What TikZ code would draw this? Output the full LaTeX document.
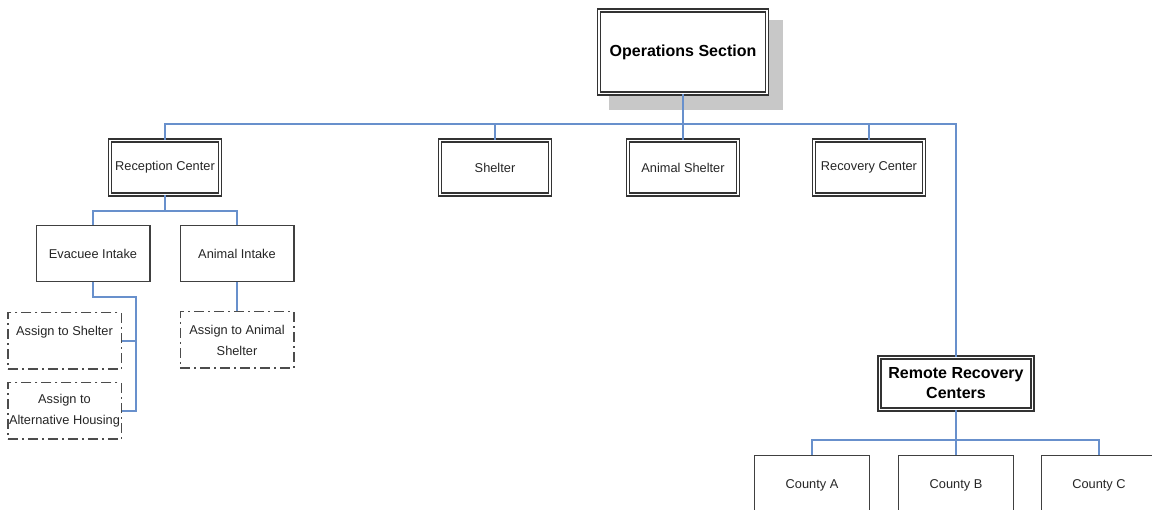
\documentclass[tikz,border=0pt]{standalone}
\usepackage{fontspec}
\setmainfont{Liberation Sans}
\usetikzlibrary{backgrounds}
\definecolor{linkblue}{RGB}{104,144,204}
\definecolor{shadowgray}{RGB}{200,200,200}
\tikzset{>=latex}
\tikzset{
  unitbox/.style={draw=black!75, fill=white, line width=1.4pt, align=center, inner sep=1pt,
    text=black!85, font=\fontsize{12.8}{21}\selectfont},
  dblbox/.style={unitbox, draw=black!80, line width=1.5pt, double=white, double distance=1.8pt,
    minimum width=110pt, minimum height=54pt},
  headbox/.style={dblbox, text=black, font=\fontsize{16}{20}\selectfont\bfseries},
  plainbox/.style={unitbox, minimum width=113.6pt, minimum height=55.6pt},
  taskbox/.style={unitbox, draw=black!70, line width=1.5pt, dash pattern=on 10pt off 4pt on 2pt off 4pt,
    minimum width=113.5pt, minimum height=56.5pt},
  link/.style={draw=linkblue, line width=1.5pt}
}

\begin{document}
\begin{tikzpicture}[x=1pt, y=-1pt]
    \useasboundingbox (0, 0) rectangle (1152, 510);
    \clip (0, 0) rectangle (1152, 510);
    % top level
    \node[headbox, minimum width=168pt, minimum height=83pt] (ops) at (683, 52) {Operations Section};
    \begin{scope}[on background layer]
      \fill[shadowgray] ([shift={(10.5, 10.5)}]ops.north west) rectangle ([shift={(15.5, 15.5)}]ops.south east);
    \end{scope}
    \node[dblbox] (rec) at (165, 167.5) {Reception Center};
    \node[dblbox] (shel) at (495, 167.5) {Shelter};
    \node[dblbox] (anim) at (683, 167.5) {Animal Shelter};
    \node[dblbox] (recov) at (869, 167.5) {Recovery Center};
    % reception
    \node[plainbox] (evac) at (93, 253.5) {Evacuee Intake};
    \node[plainbox] (aint) at (237, 253.5) {Animal Intake};
    \node[taskbox] (asgA) at (64.5, 341) {Assign to Shelter\\\mbox{}};
    \node[taskbox] (asgB) at (64.5, 411) {Assign to\\Alternative Housing};
    \node[taskbox] (asgC) at (237, 340) {Assign to Animal\\Shelter};
    % remote
    \node[headbox, minimum width=153pt, minimum height=52pt] (remote) at (956, 383.5) {Remote Recovery\\Centers};
    \node[plainbox, minimum width=114.6pt, minimum height=58.6pt] (cntA) at (812, 485) {County A};
    \node[plainbox, minimum width=114.6pt, minimum height=58.6pt] (cntB) at (956, 485) {County B};
    \node[plainbox, minimum width=114.6pt, minimum height=58.6pt] (cntC) at (1099, 485) {County C};
    % connectors
    \coordinate (bus) at (683, 124);
    \draw[link] (ops.south) -- (bus);
    \foreach \n in {rec, shel, anim, recov, remote}
      \draw[link] (bus) -| (\n.north);
    \coordinate (recbus) at (165, 211);
    \draw[link] (rec.south) -- (recbus);
    \foreach \n in {evac, aint}
      \draw[link] (recbus) -| (\n.north);
    \coordinate (evacbend) at (136, 297);
    \draw[link] (evac.south) |- (evacbend) |- (asgA.east);
    \draw[link] (evacbend) |- (asgB.east);
    \draw[link] (aint.south) -- (asgC.north);
    \coordinate (rembus) at (956, 440);
    \draw[link] (remote.south) -- (rembus);
    \foreach \n in {cntA, cntB, cntC}
      \draw[link] (rembus) -| (\n.north);
  \end{tikzpicture}
\end{document}
